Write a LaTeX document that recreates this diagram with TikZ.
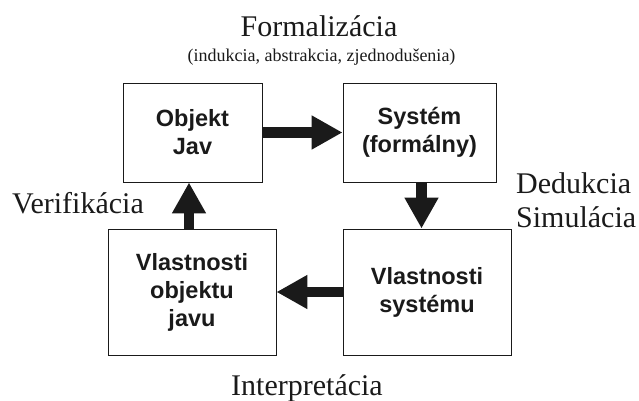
\documentclass[tikz,border=0pt]{standalone}
\usepackage{fontspec}
\setmainfont{Liberation Serif}
\newfontfamily\boxfont{Liberation Sans}
\usetikzlibrary{arrows.meta}
\definecolor{ink}{HTML}{1A1A1A}
\tikzset{
  box/.style={draw=ink, line width=0.9pt, inner sep=0pt, align=center, text=ink,
    font=\boxfont\bfseries\fontsize{23.5}{28}\selectfont},
  lbl/.style={inner sep=0pt, text=ink, font=\fontsize{30}{34}\selectfont},
  sublbl/.style={inner sep=0pt, text=ink, font=\fontsize{18}{20}\selectfont},
  bigarrow/.style={draw=ink, line width=10.5pt, line cap=butt,
    -{Triangle[length=31pt,width=32pt,fill=ink]}}
}
\begin{document}
\begin{tikzpicture}[x=1pt,y=-1pt]
\useasboundingbox (0,0) rectangle (639,401);
\node[box, minimum width=139pt, minimum height=99pt] (o) at (192.5,132.5) {Objekt\\Jav};
\node[box, minimum width=153pt, minimum height=99pt] (s) at (419.5,132.5) {Systém\\(formálny)};
\node[box, minimum width=168pt, minimum height=126pt] (vo) at (192,292) {Vlastnosti\\objektu\\javu};
\node[box, minimum width=168pt, minimum height=126pt] (vs) at (427,292) {Vlastnosti\\systému};

\draw[bigarrow] (o.east) -- (s.west);
\draw[bigarrow] ([xshift=2pt]s.south) -- ([xshift=2pt]s.south |- vs.north);
\draw[bigarrow] (vs.west) -- (vo.east);
\draw[bigarrow] ([xshift=-3pt]vo.north) -- ([xshift=-3pt]vo.north |- o.south);

\node[lbl, anchor=base] (f) at (319,37) {Formalizácia};
\node[sublbl, anchor=base] (fs) at (321.5,62) {(indukcia, abstrakcia, zjednodušenia)};
\node[lbl, anchor=base west] (ve) at (12,213) {Verifikácia};
\node[lbl, anchor=base west] (de) at (516,193) {Dedukcia};
\node[lbl, anchor=base west] (si) at (516,227) {Simulácia};
\node[lbl, anchor=base] (in) at (307,395) {Interpretácia};
\end{tikzpicture}
\end{document}
